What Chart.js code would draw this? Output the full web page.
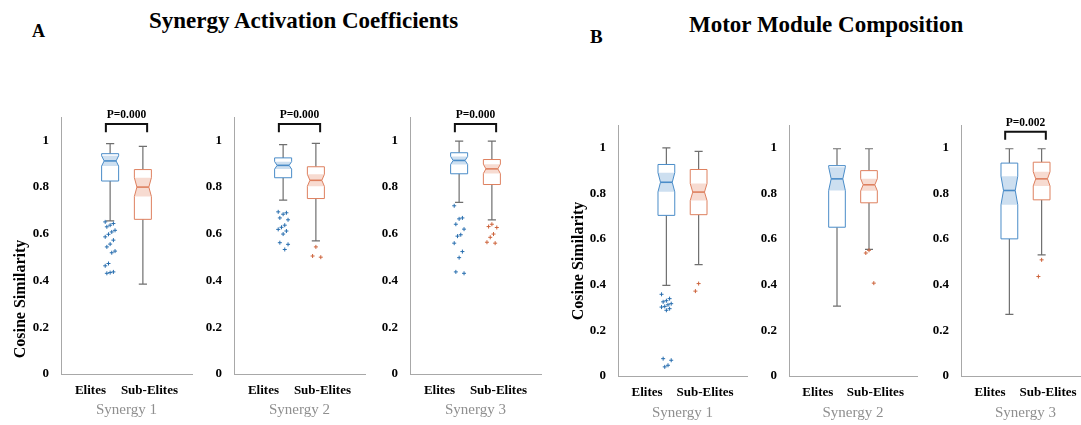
<!DOCTYPE html>
<html>
<head>
<meta charset="utf-8">
<script src="https://cdn.jsdelivr.net/npm/chart.js@4.4.0/dist/chart.umd.min.js"></script>
<style>
  body { margin: 0; width: 1081px; height: 425px; overflow: hidden; background: #fff; position: relative;
         font-family: 'Liberation Serif', 'Times New Roman', serif; }
  .t { position: absolute; font-weight: bold; white-space: nowrap; color: #000; line-height: 1; }
  canvas { position: absolute; }
</style>
</head>
<body>
<div class="t" style="left:32px;top:22px;font-size:18px">A</div>
<div class="t" style="left:149px;top:9px;font-size:23px">Synergy Activation Coefficients</div>
<div class="t" style="left:590px;top:27px;font-size:19px">B</div>
<div class="t" style="left:689px;top:13px;font-size:23px">Motor Module Composition</div>
<script>
// categories and labels
const categories = ['Elites', 'Sub-Elites'];
const synergyLabels = ['Synergy 1', 'Synergy 2', 'Synergy 3', 'Synergy 1', 'Synergy 2', 'Synergy 3'];
const yTickValues = [0, 0.2, 0.4, 0.6, 0.8, 1];
const yAxisLabel = 'Cosine Similarity';
const pLabels = ['P=0.000', 'P=0.000', 'P=0.000', '', '', 'P=0.002'];

// box statistics, one pair per panel: [Elites, Sub-Elites]
// panels A1 A2 A3 (activation coefficients), B1 B2 B3 (motor modules)
const upperWhisker = [[0.986, 0.974], [0.982, 0.987], [0.997, 0.997], [1.000, 0.984], [0.996, 0.996], [0.996, 0.996]];
const q3 =           [[0.943, 0.875], [0.925, 0.887], [0.947, 0.918], [0.927, 0.905], [0.922, 0.900], [0.933, 0.937]];
const median =       [[0.912, 0.800], [0.893, 0.829], [0.914, 0.878], [0.849, 0.806], [0.864, 0.838], [0.813, 0.864]];
const q1 =           [[0.826, 0.662], [0.840, 0.751], [0.857, 0.811], [0.704, 0.707], [0.652, 0.759], [0.601, 0.772]];
const lowerWhisker = [[0.655, 0.385], [0.744, 0.570], [0.735, 0.660], [0.397, 0.488], [0.306, 0.555], [0.270, 0.531]];

const outliersElites = [
  [0.651, 0.644, 0.637, 0.630, 0.615, 0.608, 0.598, 0.587, 0.573, 0.556, 0.544, 0.526, 0.519, 0.473, 0.463, 0.437, 0.434, 0.431],
  [0.694, 0.690, 0.684, 0.668, 0.660, 0.637, 0.628, 0.619, 0.612, 0.599, 0.562, 0.555, 0.533],
  [0.720, 0.668, 0.664, 0.641, 0.620, 0.596, 0.590, 0.560, 0.524, 0.498, 0.437, 0.431],
  [0.358, 0.339, 0.330, 0.325, 0.317, 0.312, 0.305, 0.302, 0.295, 0.288, 0.076, 0.069, 0.047, 0.040],
  [],
  []
];
const outliersSubElites = [
  [],
  [0.544, 0.505, 0.500],
  [0.641, 0.631, 0.627, 0.599, 0.585, 0.564, 0.560],
  [0.405, 0.372],
  [0.551, 0.539, 0.407],
  [0.509, 0.436]
];
const sampleSize = 70; // used for the notch width

const serif = "'Liberation Serif', 'Times New Roman', serif";
const eliteLine = 'rgb(74,140,200)';
const eliteFill = 'rgba(74,140,200,0.28)';
const eliteDot = 'rgb(40,110,175)';
const subLine = 'rgb(222,128,95)';
const subFill = 'rgba(222,110,70,0.25)';
const subDot = 'rgb(205,100,60)';
const whiskerGray = '#6f6f6f';
const axisGray = '#a8a8a8';

Chart.defaults.font.family = serif;

// placement of each panel on the page (yLabelAt: centre of the rotated y label, canvas px)
const panels = [
  { left: 11,  top: 92, w: 189, h: 333, yW: 50, padTop: 25, xH: 45, titlePad: 0, yLabelAt: 207 },
  { left: 194, top: 92, w: 179, h: 333, yW: 40, padTop: 25, xH: 45, titlePad: 0 },
  { left: 370, top: 92, w: 179, h: 333, yW: 40, padTop: 25, xH: 45, titlePad: 0 },
  { left: 569, top: 92, w: 186, h: 333, yW: 49, padTop: 33, xH: 43, titlePad: -3, yLabelAt: 169 },
  { left: 749, top: 92, w: 176, h: 333, yW: 40, padTop: 33, xH: 43, titlePad: -3 },
  { left: 921, top: 92, w: 177, h: 333, yW: 40, padTop: 33, xH: 43, titlePad: -3 }
];

function jitter(j) { return ((j * 5) % 7 - 3) * 0.05; }

function boxPath(ctx, xc, hw, inner, yQ3, yNH, yMed, yNL, yQ1) {
  ctx.beginPath();
  ctx.moveTo(xc - hw, yQ3); ctx.lineTo(xc + hw, yQ3);
  ctx.lineTo(xc + hw, yNH); ctx.lineTo(xc + inner, yMed); ctx.lineTo(xc + hw, yNL);
  ctx.lineTo(xc + hw, yQ1); ctx.lineTo(xc - hw, yQ1);
  ctx.lineTo(xc - hw, yNL); ctx.lineTo(xc - inner, yMed); ctx.lineTo(xc - hw, yNH);
  ctx.closePath();
}

const boxPlugin = {
  id: 'boxes',
  beforeDatasetsDraw(chart, args, opts) {
    const i = opts.panel;
    const xs = chart.scales.x, ys = chart.scales.y, ctx = chart.ctx;
    ctx.save();
    for (let k = 0; k < 2; k++) {
      const xc = xs.getPixelForValue(k + 1);
      const hw = xs.getPixelForValue(k + 1 + 0.26) - xc;
      const cap = xs.getPixelForValue(k + 1 + 0.125) - xc;
      const iqr = q3[i][k] - q1[i][k];
      const notch = 1.57 * iqr / Math.sqrt(sampleSize);
      const nHi = Math.min(median[i][k] + notch, q3[i][k]);
      const nLo = Math.max(median[i][k] - notch, q1[i][k]);
      const yUW = ys.getPixelForValue(upperWhisker[i][k]);
      const yQ3 = ys.getPixelForValue(q3[i][k]);
      const yNH = ys.getPixelForValue(nHi);
      const yMed = ys.getPixelForValue(median[i][k]);
      const yNL = ys.getPixelForValue(nLo);
      const yQ1 = ys.getPixelForValue(q1[i][k]);
      const yLW = ys.getPixelForValue(lowerWhisker[i][k]);
      const line = k === 0 ? eliteLine : subLine;
      const fill = k === 0 ? eliteFill : subFill;
      const inner = hw * 0.7;

      // whiskers
      ctx.strokeStyle = whiskerGray;
      ctx.lineWidth = 1.2;
      ctx.beginPath();
      ctx.moveTo(xc, yQ3); ctx.lineTo(xc, yUW);
      ctx.moveTo(xc - cap, yUW); ctx.lineTo(xc + cap, yUW);
      ctx.moveTo(xc, yQ1); ctx.lineTo(xc, yLW);
      ctx.moveTo(xc - cap, yLW); ctx.lineTo(xc + cap, yLW);
      ctx.stroke();

      // notched box, white inside
      boxPath(ctx, xc, hw, inner, yQ3, yNH, yMed, yNL, yQ1);
      ctx.fillStyle = '#fff';
      ctx.fill();

      // shaded notch band
      ctx.beginPath();
      ctx.moveTo(xc - hw, yNH); ctx.lineTo(xc + hw, yNH); ctx.lineTo(xc + inner, yMed);
      ctx.lineTo(xc + hw, yNL); ctx.lineTo(xc - hw, yNL); ctx.lineTo(xc - inner, yMed);
      ctx.closePath();
      ctx.fillStyle = fill;
      ctx.fill();

      boxPath(ctx, xc, hw, inner, yQ3, yNH, yMed, yNL, yQ1);
      ctx.strokeStyle = line;
      ctx.lineWidth = 1;
      ctx.stroke();

      // median
      ctx.beginPath();
      ctx.moveTo(xc - inner, yMed); ctx.lineTo(xc + inner, yMed);
      ctx.lineWidth = 1.6;
      ctx.stroke();
    }
    ctx.restore();
  },
  afterDraw(chart, args, opts) {
    const ctx = chart.ctx;
    const p = panels[opts.panel];
    // y label, sits a bit below the middle of the axis in the original
    if (p.yLabelAt) {
      ctx.save();
      ctx.translate(10, p.yLabelAt);
      ctx.rotate(-Math.PI / 2);
      ctx.fillStyle = '#000';
      ctx.font = 'bold 16px ' + serif;
      ctx.textAlign = 'center';
      ctx.textBaseline = 'middle';
      ctx.fillText(yAxisLabel, 0, 0);
      ctx.restore();
    }

    const label = pLabels[opts.panel];
    if (!label) return;
    const xs = chart.scales.x, ys = chart.scales.y;
    const xL = xs.getPixelForValue(0.87), xR = xs.getPixelForValue(2.13);
    const yTop = ys.getPixelForValue(1.07), yLeg = ys.getPixelForValue(1.035);
    ctx.save();
    ctx.strokeStyle = '#111';
    ctx.lineWidth = 2;
    ctx.beginPath();
    ctx.moveTo(xL, yLeg); ctx.lineTo(xL, yTop); ctx.lineTo(xR, yTop); ctx.lineTo(xR, yLeg);
    ctx.stroke();
    ctx.fillStyle = '#000';
    ctx.font = 'bold 11.5px ' + serif;
    ctx.textAlign = 'center';
    ctx.textBaseline = 'alphabetic';
    ctx.fillText(label, (xL + xR) / 2, yTop - 6);
    ctx.restore();
  }
};

panels.forEach((p, i) => {
  const cv = document.createElement('canvas');
  cv.width = p.w;
  cv.height = p.h;
  cv.style.left = p.left + 'px';
  cv.style.top = p.top + 'px';
  document.body.appendChild(cv);

  new Chart(cv.getContext('2d'), {
    type: 'scatter',
    data: {
      datasets: [
        {
          label: categories[0],
          data: outliersElites[i].map((v, j) => ({ x: 1 + jitter(j), y: v })),
          pointStyle: 'cross', radius: 2, borderColor: eliteDot, borderWidth: 1
        },
        {
          label: categories[1],
          data: outliersSubElites[i].map((v, j) => ({ x: 2 + jitter(j + 2), y: v })),
          pointStyle: 'cross', radius: 2, borderColor: subDot, borderWidth: 1
        }
      ]
    },
    options: {
      responsive: false,
      animation: false,
      devicePixelRatio: 1,
      events: [],
      layout: { padding: { top: p.padTop, right: 8, bottom: 6, left: 0 } },
      plugins: {
        legend: { display: false },
        tooltip: { enabled: false },
        boxes: { panel: i }
      },
      scales: {
        x: {
          type: 'linear', min: -0.5, max: 3.5,
          grid: { display: false },
          border: { color: axisGray },
          afterBuildTicks: s => { s.ticks = [{ value: 0.4 }, { value: 2.2 }]; },
          afterFit: s => { s.height = p.xH; },
          ticks: {
            autoSkip: false, maxRotation: 0, padding: 1, color: '#000',
            font: { family: serif, size: 13, weight: 'bold' },
            callback: (v, k) => categories[k]
          },
          title: {
            display: true, text: synergyLabels[i], color: '#8f8f8f',
            font: { family: serif, size: 15 }, padding: { top: 0, bottom: p.titlePad }
          }
        },
        y: {
          min: 0, max: 1.1,
          grid: { display: false },
          border: { color: axisGray },
          afterBuildTicks: s => { s.ticks = yTickValues.map(v => ({ value: v })); },
          afterFit: s => { s.width = p.yW; },
          ticks: { padding: 4, color: '#000', font: { family: serif, size: 13, weight: 'bold' }, callback: v => String(v) }
        }
      }
    },
    plugins: [boxPlugin]
  });
});
</script>
</body>
</html>
